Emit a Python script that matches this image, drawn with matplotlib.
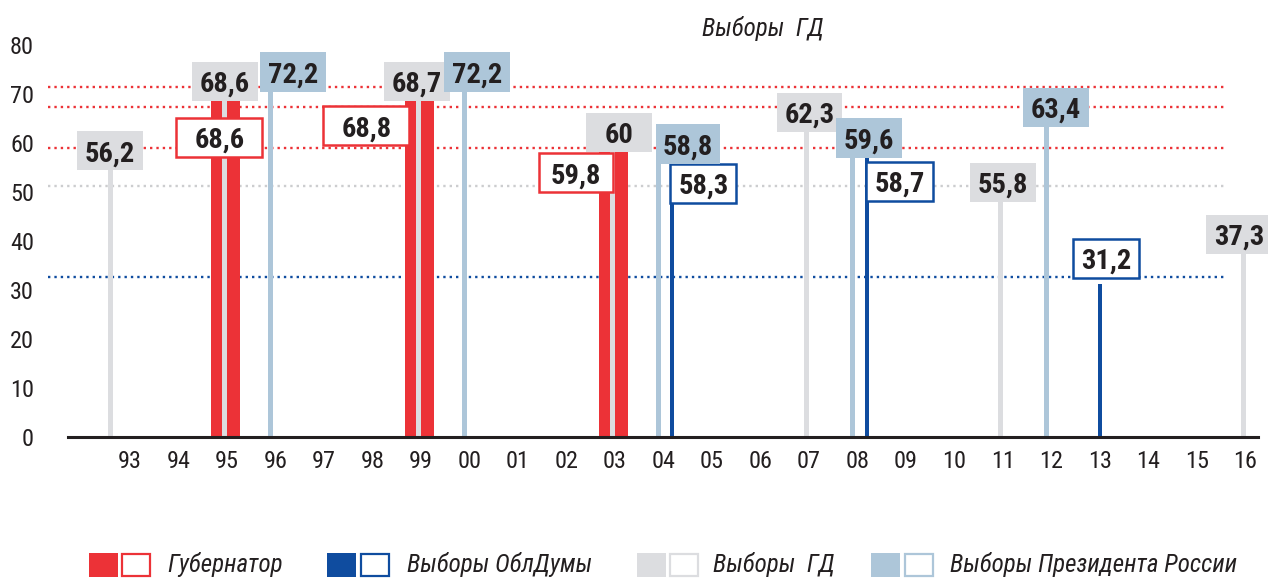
import matplotlib
matplotlib.use("Agg")
import matplotlib.pyplot as plt
from matplotlib.patches import Rectangle
from matplotlib import font_manager

# ---- data ----
years = ["93", "94", "95", "96", "97", "98", "99", "00", "01", "02", "03", "04",
         "05", "06", "07", "08", "09", "10", "11", "12", "13", "14", "15", "16"]

gov_years = ["95", "99", "03"]
gov_values = [68.6, 68.8, 59.8]
obl_years = ["04", "08", "13"]
obl_values = [58.3, 58.7, 31.2]
gd_years = ["93", "95", "99", "03", "07", "11", "16"]
gd_values = [56.2, 68.6, 68.7, 60, 62.3, 55.8, 37.3]
pres_years = ["96", "00", "04", "08", "12"]
pres_values = [72.2, 72.2, 58.8, 59.6, 63.4]

ref_red = [71.5, 67.4, 59.0]
ref_gray = [51.2]
ref_blue = [32.6]

legend_labels = ["Губернатор", "Выборы ОблДумы", "Выборы  ГД", "Выборы Президента России"]
title = "Выборы  ГД"

# ---- colours ----
RED = "#ec3237"
DBLUE = "#0f4c9f"
GRAY = "#dcdde0"
LBLUE = "#adc6d9"
INK = "#231f20"


def pick(names):
    avail = {f.name for f in font_manager.fontManager.ttflist}
    for n in names:
        if n in avail:
            return n
    return "DejaVu Sans"


NARROW = pick(["Liberation Sans Narrow", "Roboto Condensed", "DejaVu Sans"])
plt.rcParams["font.family"] = [NARROW, "DejaVu Sans"]

W, H = 1268, 578
fig = plt.figure(figsize=(W / 100, H / 100), dpi=100)
# axes: x from px 48 to 1258, y value 0 at px 437, 80 at px 45
AX_L, AX_R = 48, 1258
ax = fig.add_axes([AX_L / W, (H - 437) / H, (AX_R - AX_L) / W, 392 / H])
for s in ax.spines.values():
    s.set_visible(False)

ax.set_xticks(range(len(years)))
ax.set_xticklabels(years, fontsize=17.5, color=INK)
ax.set_yticks(range(0, 81, 10))
ax.set_yticklabels([str(v) for v in range(0, 81, 10)], fontsize=17.5, color=INK)
ax.tick_params(length=0)
ax.tick_params(axis="x", pad=9)
ax.tick_params(axis="y", pad=10)
x0 = (AX_L - 130) / 48.5
x1 = (AX_R - 130) / 48.5
ax.set_xlim(x0, x1)
ax.set_ylim(0, 80)

# reference dotted lines (end at px 1227)
dots = (0, (1, 1.7))
xm = (1227 - AX_L) / (AX_R - AX_L)
for v in ref_red:
    ax.axhline(v, xmax=xm, color=RED, lw=1.7, ls=dots, zorder=1)
for v in ref_gray:
    ax.axhline(v, xmax=xm, color="#cccdcf", lw=1.7, ls=dots, zorder=1)
for v in ref_blue:
    ax.axhline(v, xmax=xm, color=DBLUE, lw=1.7, ls=dots, zorder=1)

# baseline
ax.plot([-1.28, 23.26], [0, 0], color=INK, lw=2.2, clip_on=False, zorder=6)

idx = {y: i for i, y in enumerate(years)}
shift = {"gov": -0.04, "gd": -0.05, "pres": -0.1, "obl": 0.0}
special = {("gd", "93"): -0.41, ("obl", "04"): 0.18, ("obl", "08"): 0.2}


def xs(key, yrs):
    return [idx[y] + special.get((key, y), shift[key]) for y in yrs]


ax.bar(xs("gov", gov_years), gov_values, width=0.6, color=RED, zorder=2, clip_on=False)
ax.bar(xs("gd", gd_years), gd_values, width=0.105, color=GRAY, zorder=3, clip_on=False)
ax.bar(xs("pres", pres_years), pres_values, width=0.105, color=LBLUE, zorder=3, clip_on=False)
ax.bar(xs("obl", obl_years), obl_values, width=0.085, color=DBLUE, zorder=3, clip_on=False)
ax.set_xlim(x0, x1)
ax.set_ylim(0, 80)

# value boxes: centre x (category units), centre y (data units), width
box_pos = {
    ("gd", "93"): (-0.41, 58.4, 1.36),
    ("gd", "95"): (1.96, 72.5, 1.36),
    ("gd", "99"): (5.92, 72.5, 1.36),
    ("gd", "03"): (10.08, 62.2, 1.36),
    ("gd", "07"): (14.01, 66.3, 1.36),
    ("gd", "11"): (18.0, 52.0, 1.36),
    ("gd", "16"): (22.87, 41.3, 1.36),
    ("pres", "96"): (3.36, 74.5, 1.36),
    ("pres", "00"): (7.16, 74.5, 1.36),
    ("pres", "04"): (11.5, 59.8, 1.32),
    ("pres", "08"): (15.24, 61.0, 1.36),
    ("pres", "12"): (19.09, 67.3, 1.36),
    ("obl", "04"): (11.82, 51.7, 1.36),
    ("obl", "08"): (15.87, 52.2, 1.38),
    ("obl", "13"): (20.12, 36.5, 1.36),
    ("gov", "95"): (1.84, 61.2, 1.77),
    ("gov", "99"): (4.87, 63.5, 1.77),
    ("gov", "03"): (9.2, 53.9, 1.53),
}
box_style = {
    "gd": dict(facecolor=GRAY, edgecolor="none"),
    "pres": dict(facecolor=LBLUE, edgecolor="none"),
    "obl": dict(facecolor="white", edgecolor=DBLUE, linewidth=1.8),
    "gov": dict(facecolor="white", edgecolor=RED, linewidth=1.8),
}
BOX_H = 8.0


def fmt(v):
    return f"{v:g}".replace(".", ",")


for key, yrs, vals in [("gov", gov_years, gov_values), ("obl", obl_years, obl_values),
                       ("gd", gd_years, gd_values), ("pres", pres_years, pres_values)]:
    for y, v in zip(yrs, vals):
        cx, cy, w = box_pos[(key, y)]
        ax.add_patch(Rectangle((cx - w / 2, cy - BOX_H / 2), w, BOX_H, zorder=4,
                               clip_on=False, **box_style[key]))
        ax.text(cx, cy - 2.1, fmt(v), ha="center", va="baseline", fontsize=20.5,
                fontweight="bold", color=INK, zorder=5, clip_on=False)

# title
fig.text(702 / W, 1 - 36 / H, title, fontsize=18, style="italic", color=INK,
         ha="left", va="baseline")

# legend
legend_items = [
    (RED, 89, 121, 167),
    (DBLUE, 327, 360, 407),
    (GRAY, 637, 669, 713),
    (LBLUE, 871, 904, 950),
]
for (col, fx, ox, tx), lab in zip(legend_items, legend_labels):
    fig.add_artist(Rectangle((fx / W, 1 - 577 / H), 29 / W, 24 / H, transform=fig.transFigure,
                             facecolor=col, edgecolor="none"))
    fig.add_artist(Rectangle(((ox + 1) / W, 1 - 576 / H), 28 / W, 22 / H, transform=fig.transFigure,
                             facecolor="white", edgecolor=col, linewidth=1.6))
    fig.text(tx / W, 1 - 572 / H, lab, fontsize=18, style="italic", color=INK,
             ha="left", va="baseline")

fig.savefig("out.png", dpi=100)
